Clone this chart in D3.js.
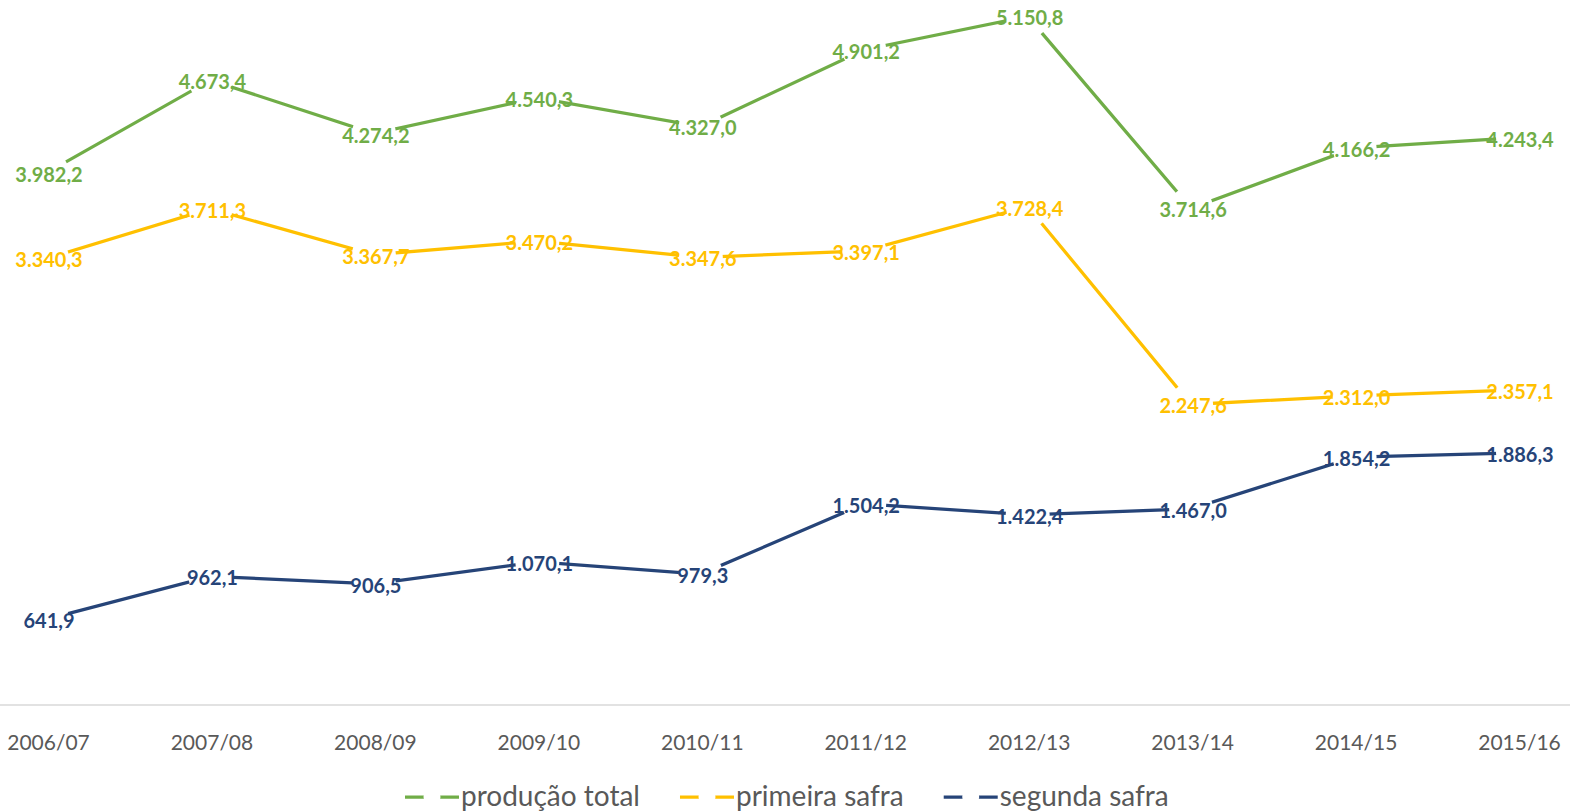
<!DOCTYPE html>
<html>
<head>
<meta charset="utf-8">
<script src="https://cdn.jsdelivr.net/npm/d3@7"></script>
<style>
  body { margin: 0; background: #fff; }
  svg { display: block; font-family: Lato, "Open Sans", sans-serif; }
</style>
</head>
<body>
<svg id="chart"></svg>
<script>
// safras, mil toneladas
var safras = ["2006/07", "2007/08", "2008/09", "2009/10", "2010/11", "2011/12", "2012/13", "2013/14", "2014/15", "2015/16"];
var producaoTotal = [3982.2, 4673.4, 4274.2, 4540.3, 4327.0, 4901.2, 5150.8, 3714.6, 4166.2, 4243.4];
var primeiraSafra = [3340.3, 3711.3, 3367.7, 3470.2, 3347.6, 3397.1, 3728.4, 2247.6, 2312.0, 2357.1];
var segundaSafra = [641.9, 962.1, 906.5, 1070.1, 979.3, 1504.2, 1422.4, 1467.0, 1854.2, 1886.3];

var series = [
  {name: "produção total", values: producaoTotal, color: "#70AD47"},
  {name: "primeira safra", values: primeiraSafra, color: "#FFC000"},
  {name: "segunda safra", values: segundaSafra, color: "#264478"}
];

const width = 1570;
const height = 812;
const markerR = 22;

var ptBR = d3.formatLocale({decimal: ",", thousands: ".", grouping: [3], currency: ["R$", ""]});
var fmt = ptBR.format(",.1f");

var svg = d3.select('#chart')
  .attr('width', width)
  .attr('height', height);

var x = d3.scalePoint()
  .domain(safras)
  .range([47, 1518]);

var y = d3.scaleLinear()
  .domain([0, 5273])
  .range([705, 0]);

// eixo horizontal
var xAxis = svg.append('g')
  .attr('transform', 'translate(0, 705)')
  .call(d3.axisBottom(x).tickSize(0).tickPadding(0));
xAxis.select('.domain')
  .attr('d', `M0,0H${width}`)
  .attr('stroke', '#d9d9d9')
  .attr('stroke-width', 1.5);
xAxis.selectAll('text')
  .attr('x', 1)
  .attr('y', 45)
  .attr('dy', null)
  .attr('font-family', 'Lato')
  .attr('font-size', 21)
  .attr('fill', '#595959');

var line = d3.line()
  .x((d, i) => x(safras[i]))
  .y(d => y(d));

// linhas
svg.selectAll('path.line')
  .data(series)
  .enter().append('path')
    .attr('class', 'line')
    .attr('fill', 'none')
    .attr('stroke', d => d.color)
    .attr('stroke-width', 3.25)
    .attr('d', d => line(d.values));

// marcadores brancos (escondem a linha em volta do rótulo)
series.forEach(s => {
  svg.append('g').selectAll('circle')
    .data(s.values)
    .enter().append('circle')
      .attr('cx', (d, i) => x(safras[i]))
      .attr('cy', d => y(d))
      .attr('r', markerR)
      .attr('fill', '#fff');
});

// rótulos
series.forEach(s => {
  svg.append('g').selectAll('text')
    .data(s.values)
    .enter().append('text')
      .attr('x', (d, i) => x(safras[i]) + 2)
      .attr('y', d => y(d) + 9)
      .attr('text-anchor', 'middle')
      .attr('font-size', 20)
      .attr('font-weight', 'bold')
      .attr('fill', s.color)
      .text(d => fmt(d));
});

// legenda
var legend = svg.append('g').attr('transform', 'translate(0, 797)');
var lx = 405;
series.forEach(s => {
  var g = legend.append('g').attr('transform', `translate(${lx}, 0)`);
  g.append('line')
    .attr('x1', 0).attr('x2', 54)
    .attr('stroke', s.color)
    .attr('stroke-width', 3.25);
  g.append('circle')
    .attr('cx', 27)
    .attr('r', 8.5)
    .attr('fill', '#fff');
  var t = g.append('text')
    .attr('x', 56)
    .attr('y', 9)
    .attr('font-size', 28)
    .attr('fill', '#595959')
    .text(s.name);
  lx += 56 + t.node().getComputedTextLength() + 40;
});
</script>
</body>
</html>
